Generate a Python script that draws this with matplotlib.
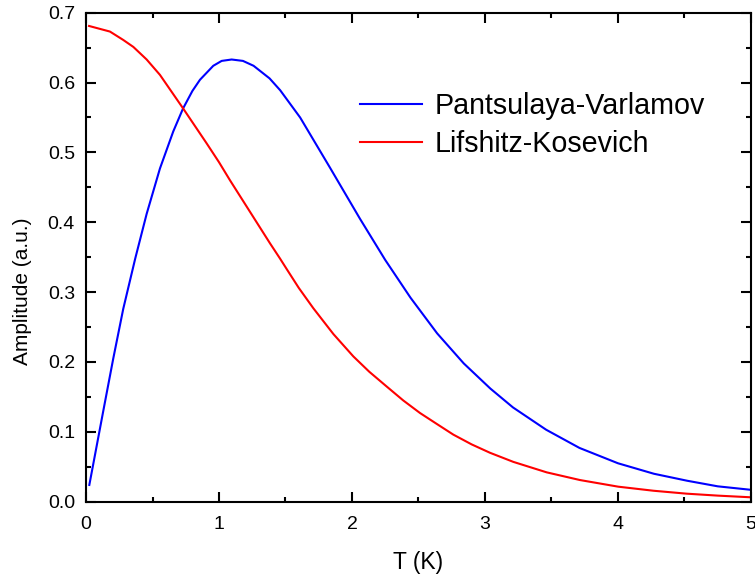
import matplotlib
matplotlib.use("Agg")
import matplotlib.pyplot as plt
from matplotlib.ticker import MultipleLocator, FormatStrFormatter

plt.rcParams['font.family'] = ['Liberation Sans', 'DejaVu Sans']

# Pantsulaya-Varlamov (blue)
pv_T = [0.025, 0.13, 0.205, 0.28, 0.37, 0.456, 0.556, 0.656, 0.73, 0.80, 0.857, 0.957,
        1.02, 1.095, 1.18, 1.26, 1.38, 1.46, 1.61, 1.835, 2.06, 2.25, 2.44, 2.64, 2.84,
        3.04, 3.21, 3.46, 3.71, 4.0, 4.27, 4.52, 4.75, 5.0]
pv_A = [0.024, 0.130, 0.205, 0.276, 0.348, 0.412, 0.477, 0.530, 0.563, 0.588, 0.604, 0.624,
        0.631, 0.633, 0.631, 0.624, 0.606, 0.589, 0.550, 0.478, 0.405, 0.346, 0.292, 0.241, 0.198,
        0.162, 0.135, 0.103, 0.077, 0.055, 0.040, 0.030, 0.022, 0.017]

# Lifshitz-Kosevich (red)
lk_T = [0.023, 0.18, 0.28, 0.356, 0.456, 0.556, 0.73, 0.907, 1.0, 1.083, 1.283, 1.383,
        1.459, 1.509, 1.6, 1.709, 1.86, 2.01, 2.13, 2.26, 2.385, 2.511, 2.64, 2.762, 2.9, 3.038,
        3.213, 3.464, 3.714, 4.002, 4.266, 4.516, 4.75, 5.0]
lk_A = [0.681, 0.673, 0.661, 0.651, 0.633, 0.611, 0.563, 0.513, 0.486, 0.460, 0.400, 0.370,
        0.348, 0.333, 0.306, 0.277, 0.240, 0.208, 0.186, 0.165, 0.145, 0.127, 0.111, 0.096, 0.082, 0.070,
        0.057, 0.042, 0.031, 0.0215, 0.0157, 0.0115, 0.0087, 0.0063]

fig = plt.figure(figsize=(7.55, 5.77), dpi=100)
ax = fig.add_axes([86/755, 1 - 501.7/577, (751 - 86)/755, (501.7 - 12.7)/577])

ax.plot(pv_T, pv_A, color='#0000ff', lw=1.5, label='Pantsulaya-Varlamov')
ax.plot(lk_T, lk_A, color='#ff0000', lw=1.5, label='Lifshitz-Kosevich')

ax.set_xlim(0, 5)
ax.set_ylim(0, 0.7)
ax.xaxis.set_major_locator(MultipleLocator(1))
ax.xaxis.set_minor_locator(MultipleLocator(0.5))
ax.yaxis.set_major_locator(MultipleLocator(0.1))
ax.yaxis.set_minor_locator(MultipleLocator(0.05))
ax.yaxis.set_major_formatter(FormatStrFormatter('%.1f'))

for s in ax.spines.values():
    s.set_linewidth(1.5)
ax.tick_params(which='both', direction='in', top=True, right=True, width=1.5)
ax.tick_params(which='major', length=7.2, labelsize=14)
ax.tick_params(axis='x', which='major', pad=10)
ax.tick_params(axis='y', which='major', pad=8)
ax.tick_params(which='minor', length=3.6)

ax.set_xlabel('T (K)', fontsize=16.5, labelpad=13)
ax.set_ylabel('Amplitude (a.u.)', fontsize=15)
ax.yaxis.set_label_coords(-0.081, 0.43)

leg = ax.legend(loc='upper left', bbox_to_anchor=(360/755, 1 - 92/577),
                bbox_transform=fig.transFigure, frameon=False, fontsize=20.6,
                handlelength=2.15, handletextpad=0.46, labelspacing=0.34,
                borderpad=0, borderaxespad=0)

fig.savefig('out.png', dpi=100)
